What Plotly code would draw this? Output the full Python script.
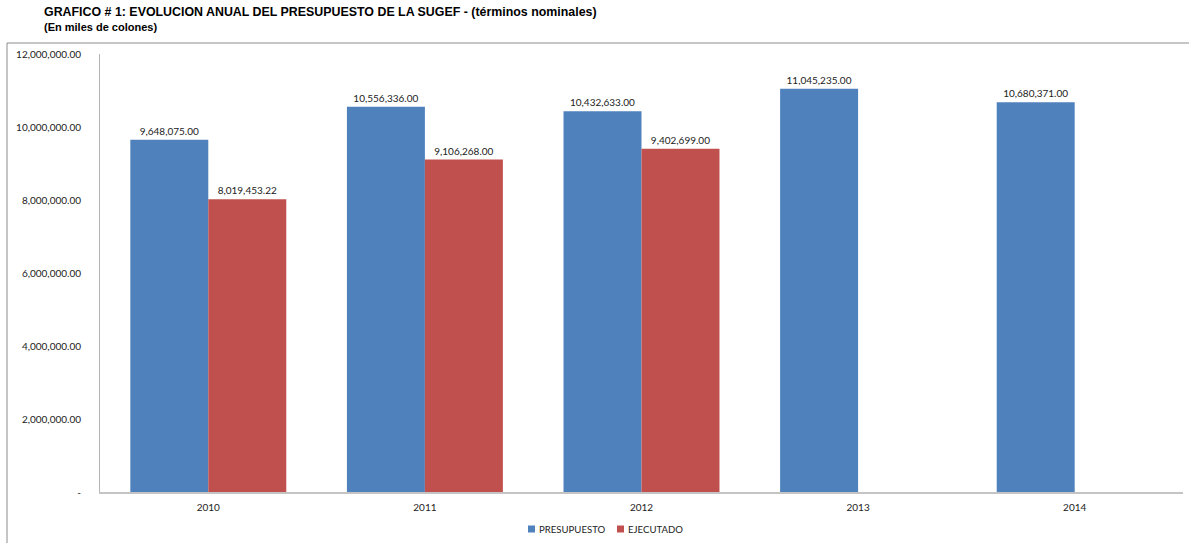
import plotly.graph_objects as go

years = ["2010", "2011", "2012", "2013", "2014"]
series_names = ["PRESUPUESTO", "EJECUTADO"]
presupuesto = [9648075.00, 10556336.00, 10432633.00, 11045235.00, 10680371.00]
ejecutado = [8019453.22, 9106268.00, 9402699.00, None, None]
ytick_vals = [0, 2000000, 4000000, 6000000, 8000000, 10000000, 12000000]
ytick_text = ["-", "2,000,000.00", "4,000,000.00", "6,000,000.00", "8,000,000.00", "10,000,000.00", "12,000,000.00"]
colors = ["#4F81BD", "#C0504D"]

font_main = "Lato, Open Sans, sans-serif"

fig = go.Figure()
for name, vals, col in zip(series_names, [presupuesto, ejecutado], colors):
    fig.add_trace(go.Bar(
        name=name, x=years, y=vals,
        marker=dict(color=col, line=dict(width=0)),
        texttemplate="%{y:,.2f}", textposition="outside",
        textfont=dict(size=10, color="#222", family=font_main), cliponaxis=False,
        showlegend=False,
    ))

L, R, T, B = 100, 6, 54, 51
W, H = 1189, 543
pw, ph = W - L - R, H - T - B

def px(x):
    return (x - L) / pw

def py(y):
    return (H - B - y) / ph

shapes = [
    dict(type="line", xref="paper", yref="paper", x0=px(7), x1=px(1195), y0=py(43), y1=py(43),
         line=dict(color="#8C8C8C", width=1)),
    dict(type="line", xref="paper", yref="paper", x0=px(7), x1=px(7), y0=py(43), y1=py(560),
         line=dict(color="#8C8C8C", width=1)),
]
annotations = [
    dict(text="<b>GRAFICO # 1: EVOLUCION ANUAL DEL PRESUPUESTO DE LA SUGEF - (términos nominales)</b>",
         xref="paper", yref="paper", x=px(42), y=py(12), xanchor="left", yanchor="middle",
         showarrow=False, font=dict(family="Liberation Sans, Arial", size=12.4, color="#000")),
    dict(text="<b>(En miles de colones)</b>",
         xref="paper", yref="paper", x=px(42), y=py(27), xanchor="left", yanchor="middle",
         showarrow=False, font=dict(family="Liberation Sans, Arial", size=11, color="#000")),
]
# manual legend
legend_x = [528, 617]
for lx, name, col in zip(legend_x, series_names, colors):
    shapes.append(dict(type="rect", xref="paper", yref="paper", x0=px(lx), x1=px(lx + 7),
                       y0=py(532.5), y1=py(525.5), fillcolor=col, line=dict(width=0)))
    annotations.append(dict(text=name, xref="paper", yref="paper", x=px(lx + 9), y=py(529),
                            xanchor="left", yanchor="middle", showarrow=False,
                            font=dict(size=9.6, family=font_main, color="#222")))

fig.update_layout(
    width=W, height=H,
    margin=dict(l=L, r=R, t=T, b=B, autoexpand=False),
    paper_bgcolor="white", plot_bgcolor="white",
    barmode="group", bargap=0.28, bargroupgap=0,
    font=dict(family=font_main, size=10, color="#222"),
    showlegend=False,
    xaxis=dict(showline=True, linecolor="#C4C4C4", linewidth=2, ticks="",
               tickfont=dict(size=10), showgrid=False, ticklabelstandoff=5),
    yaxis=dict(range=[0, 12000000], showline=True, linecolor="#B4B4B4", linewidth=1,
               showgrid=False, zeroline=False, tickvals=ytick_vals, ticktext=ytick_text,
               ticks="", ticklabelstandoff=16, tickfont=dict(size=10)),
    annotations=annotations,
    shapes=shapes,
)

fig.write_html("out.html")
